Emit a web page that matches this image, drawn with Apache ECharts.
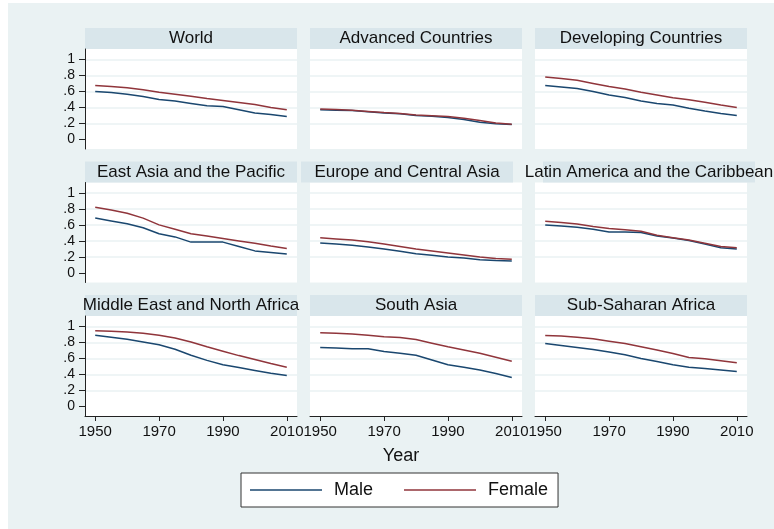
<!DOCTYPE html>
<html>
<head>
<meta charset="utf-8">
<script src="https://cdn.jsdelivr.net/npm/echarts@6/dist/echarts.min.js"></script>
<style>
  html, body { margin: 0; padding: 0; background: #fff; }
  #chart { width: 774px; height: 529px; }
</style>
</head>
<body>
<div id="chart"></div>
<script>
// years on the x axis
const years = [1950, 1955, 1960, 1965, 1970, 1975, 1980, 1985, 1990, 1995, 2000, 2005, 2010]
const yTicks = [0, 0.2, 0.4, 0.6, 0.8, 1]
const xTicks = [1950, 1970, 1990, 2010]

const panelNames = ['World', 'Advanced Countries', 'Developing Countries',
  'East Asia and the Pacific', 'Europe and Central Asia', 'Latin America and the Caribbean',
  'Middle East and North Africa', 'South Asia', 'Sub-Saharan Africa']

const maleWorld = [0.60, 0.585, 0.565, 0.535, 0.50, 0.48, 0.45, 0.42, 0.41, 0.37, 0.33, 0.31, 0.285]
const femaleWorld = [0.675, 0.66, 0.645, 0.62, 0.59, 0.565, 0.54, 0.51, 0.485, 0.46, 0.435, 0.40, 0.37]
const maleAdvanced = [0.37, 0.365, 0.36, 0.345, 0.33, 0.32, 0.30, 0.29, 0.275, 0.25, 0.215, 0.195, 0.185]
const femaleAdvanced = [0.38, 0.375, 0.365, 0.35, 0.335, 0.325, 0.305, 0.295, 0.285, 0.265, 0.235, 0.205, 0.19]
const maleDeveloping = [0.675, 0.655, 0.635, 0.60, 0.555, 0.525, 0.48, 0.45, 0.43, 0.39, 0.355, 0.325, 0.30]
const femaleDeveloping = [0.78, 0.76, 0.74, 0.70, 0.66, 0.63, 0.59, 0.555, 0.52, 0.495, 0.465, 0.43, 0.40]
const maleEastAsia = [0.685, 0.65, 0.615, 0.565, 0.49, 0.45, 0.385, 0.385, 0.385, 0.33, 0.275, 0.255, 0.235]
const femaleEastAsia = [0.82, 0.785, 0.745, 0.685, 0.60, 0.545, 0.49, 0.46, 0.43, 0.40, 0.37, 0.335, 0.305]
const maleEurope = [0.375, 0.36, 0.345, 0.325, 0.30, 0.27, 0.24, 0.22, 0.20, 0.185, 0.165, 0.155, 0.15]
const femaleEurope = [0.44, 0.425, 0.41, 0.39, 0.36, 0.33, 0.30, 0.275, 0.25, 0.225, 0.20, 0.18, 0.17]
const maleLatin = [0.60, 0.585, 0.57, 0.545, 0.51, 0.51, 0.505, 0.46, 0.435, 0.405, 0.36, 0.315, 0.30]
const femaleLatin = [0.645, 0.63, 0.61, 0.58, 0.555, 0.54, 0.52, 0.47, 0.44, 0.41, 0.37, 0.33, 0.315]
const maleMENA = [0.89, 0.865, 0.84, 0.805, 0.77, 0.715, 0.64, 0.575, 0.52, 0.485, 0.45, 0.415, 0.385]
const femaleMENA = [0.945, 0.94, 0.93, 0.915, 0.89, 0.855, 0.805, 0.745, 0.69, 0.635, 0.585, 0.535, 0.49]
const maleSouthAsia = [0.735, 0.73, 0.72, 0.72, 0.685, 0.665, 0.64, 0.58, 0.52, 0.49, 0.455, 0.41, 0.36]
const femaleSouthAsia = [0.92, 0.915, 0.905, 0.89, 0.87, 0.86, 0.835, 0.79, 0.745, 0.705, 0.665, 0.615, 0.565]
const maleSSA = [0.785, 0.76, 0.735, 0.71, 0.68, 0.645, 0.60, 0.56, 0.52, 0.49, 0.475, 0.455, 0.435]
const femaleSSA = [0.885, 0.88, 0.865, 0.845, 0.815, 0.785, 0.745, 0.705, 0.66, 0.61, 0.595, 0.57, 0.545]

const maleSeries = [maleWorld, maleAdvanced, maleDeveloping, maleEastAsia, maleEurope, maleLatin, maleMENA, maleSouthAsia, maleSSA]
const femaleSeries = [femaleWorld, femaleAdvanced, femaleDeveloping, femaleEastAsia, femaleEurope, femaleLatin, femaleMENA, femaleSouthAsia, femaleSSA]

const FONT = 'Liberation Sans, Arial, sans-serif'
const bgColor = '#eaf2f3'
const stripColor = '#d9e6eb'
const maleColor = '#1a476f'
const femaleColor = '#90353b'

// panel layout
const colLeft = [85, 310, 535]
const rowTop = [49, 182.5, 316]
const panelW = 212
const panelH = 100
// header strips (row 2 is shifted by stata because of the long title)
const stripX = [[85, 310, 535], [85, 301, 543], [85, 310, 535]]

const chart = echarts.init(document.getElementById('chart'))

const grids = [], xAxes = [], yAxes = [], series = []
const graphics = [{
  type: 'rect', z: -10, silent: true,
  shape: { x: 8, y: 3, width: 766, height: 526 },
  style: { fill: bgColor }
}]

for (let i = 0; i < 9; i++) {
  const r = Math.floor(i / 3), c = i % 3
  grids.push({
    left: colLeft[c], top: rowTop[r], width: panelW, height: panelH,
    show: true, backgroundColor: '#fff', borderWidth: 0
  })
  xAxes.push({
    type: 'value', gridIndex: i, min: 1946.8, max: 2013.2,
    axisLine: { show: r === 2, onZero: false, lineStyle: { color: '#222', width: 1 } },
    axisTick: { show: r === 2, length: 5, customValues: xTicks, lineStyle: { color: '#222' } },
    axisLabel: {
      show: r === 2, customValues: xTicks, margin: 8,
      fontFamily: FONT, fontSize: 15, color: '#111',
      formatter: v => String(v)
    },
    splitLine: { show: false }
  })
  yAxes.push({
    type: 'value', gridIndex: i, min: -0.12, max: 1.13,
    axisLine: { show: c === 0, onZero: false, lineStyle: { color: '#222', width: 1 } },
    axisTick: { show: c === 0, length: 6, customValues: yTicks, lineStyle: { color: '#222' } },
    axisLabel: {
      show: c === 0, customValues: yTicks, margin: 10,
      fontFamily: FONT, fontSize: 14, color: '#111',
      formatter: v => (v === 0 ? '0' : v === 1 ? '1' : String(+v.toFixed(1)).replace('0.', '.'))
    },
    splitLine: {
      show: true,
      lineStyle: { color: ['#ffffff', bgColor, bgColor, bgColor, bgColor, bgColor], width: 1.5 }
    }
  })
  series.push({
    name: 'Male', type: 'line', xAxisIndex: i, yAxisIndex: i,
    data: years.map((y, k) => [y, maleSeries[i][k]]),
    symbol: 'none', lineStyle: { color: maleColor, width: 1.5 }, itemStyle: { color: maleColor }
  })
  series.push({
    name: 'Female', type: 'line', xAxisIndex: i, yAxisIndex: i,
    data: years.map((y, k) => [y, femaleSeries[i][k]]),
    symbol: 'none', lineStyle: { color: femaleColor, width: 1.5 }, itemStyle: { color: femaleColor }
  })
  // header strip and its title
  const sx = stripX[r][c]
  graphics.push({
    type: 'rect', silent: true,
    shape: { x: sx, y: rowTop[r] - 21, width: panelW, height: 21 },
    style: { fill: stripColor }
  })
  graphics.push({
    type: 'text', silent: true, z: 5,
    x: sx + panelW / 2, y: rowTop[r] - 10.5,
    style: {
      text: panelNames[i], fontFamily: FONT, fontSize: 17, fill: '#111',
      align: 'center', verticalAlign: 'middle'
    }
  })
}

graphics.push({
  type: 'text', silent: true,
  x: 401, y: 456,
  style: { text: 'Year', fontFamily: FONT, fontSize: 18, fill: '#111', align: 'center', verticalAlign: 'middle' }
})

const option = {
  backgroundColor: '#fff',
  animation: false,
  grid: grids,
  xAxis: xAxes,
  yAxis: yAxes,
  series: series,
  graphic: graphics,
  legend: {
    data: ['Male', 'Female'],
    left: 241, top: 473,
    backgroundColor: '#fff',
    borderColor: '#333', borderWidth: 1, borderRadius: 0,
    padding: [8, 10, 8, 9],
    icon: 'rect',
    itemWidth: 72, itemHeight: 1.5, itemGap: 31,
    textStyle: { fontFamily: FONT, fontSize: 18, color: '#111', padding: [0, 0, 0, 7], lineHeight: 18 }
  }
}
chart.setOption(option)
</script>
</body>
</html>
